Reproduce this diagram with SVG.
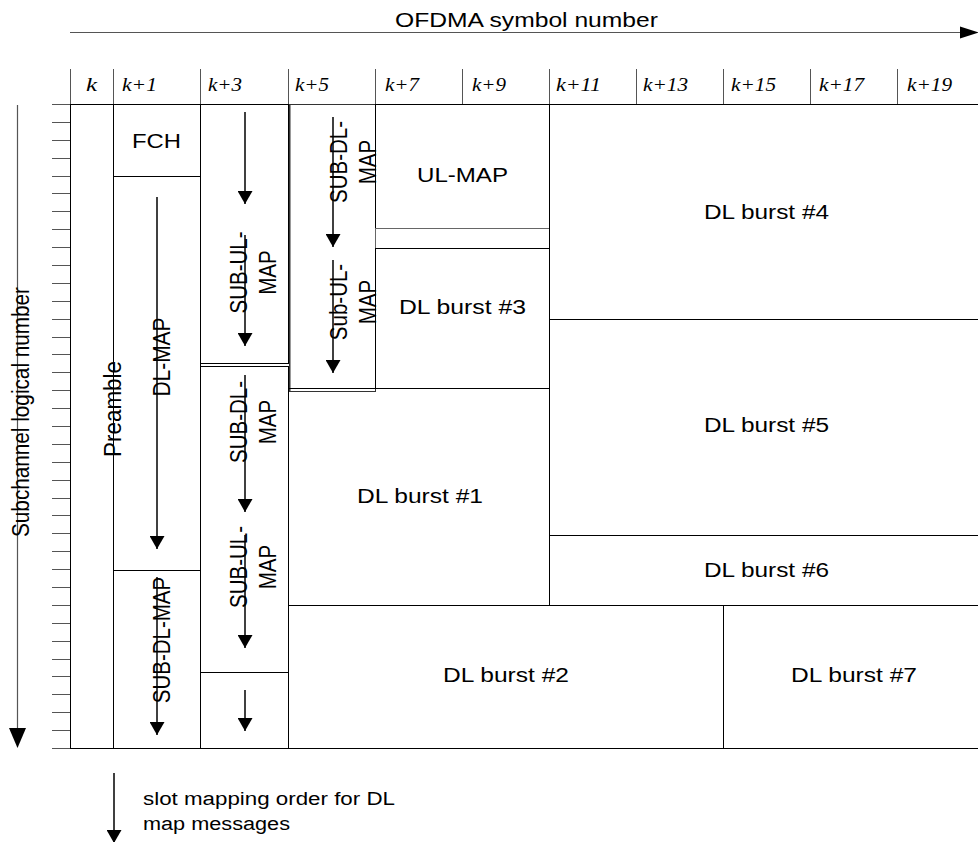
<svg xmlns="http://www.w3.org/2000/svg" width="978" height="842" viewBox="0 0 978 842">
<style>
.cell{fill:none;stroke:#000;stroke-width:1}
.thin{fill:none;stroke:#555;stroke-width:1}
.ax{fill:none;stroke:#555;stroke-width:1.2}
.t{font-family:"Liberation Sans",Arial,sans-serif;font-size:20.5px;fill:#000}
.lg{font-family:"Liberation Sans",Arial,sans-serif;font-size:18px;fill:#000}
.h{font-family:"Liberation Serif","Times New Roman",serif;font-style:italic;font-size:18px;fill:#000}
.arr{fill:none;stroke:#000;stroke-width:1.5;marker-end:url(#ah)}
</style>
<defs>
<marker id="ah" viewBox="0 0 13 15" refX="13" refY="7.5" markerWidth="13" markerHeight="15" markerUnits="userSpaceOnUse" orient="auto">
<path d="M0,0 L13,7.5 L0,15 z" fill="#000"/>
</marker>
</defs>
<rect width="978" height="842" fill="#fff"/>

<g id="axes">
<line class="ax" x1="70" y1="32.5" x2="962" y2="32.5"/>
<polygon points="960,26.5 979,32.5 960,38.5" fill="#000"/>
<text class="t" x="395" y="27" textLength="263" lengthAdjust="spacingAndGlyphs">OFDMA symbol number</text>
<line class="ax" x1="17.5" y1="105" x2="17.5" y2="730"/>
<polygon points="9,728 26,728 17.5,748" fill="#000"/>
<text class="t" transform="translate(29,412) scale(1.2,1) rotate(-90)" text-anchor="middle" textLength="250" lengthAdjust="spacingAndGlyphs">Subchannel logical number</text>
<path class="thin" d="M52 104.5H978 M52 748.5H978 M52 122.5H70 M52 140.5H70 M52 158.5H70 M52 176.5H70 M52 193.5H70 M52 211.5H70 M52 229.5H70 M52 247.5H70 M52 265.5H70 M52 283.5H70 M52 301.5H70 M52 319.5H70 M52 337.5H70 M52 354.5H70 M52 372.5H70 M52 390.5H70 M52 408.5H70 M52 426.5H70 M52 444.5H70 M52 462.5H70 M52 480.5H70 M52 498.5H70 M52 515.5H70 M52 533.5H70 M52 551.5H70 M52 569.5H70 M52 587.5H70 M52 605.5H70 M52 623.5H70 M52 641.5H70 M52 659.5H70 M52 676.5H70 M52 694.5H70 M52 712.5H70 M52 730.5H70"/>
</g>

<g id="header">
<path class="thin" d="M70.5 69V104 M113.5 69V104 M200.5 69V104 M288.5 69V104 M375.5 69V104 M462.5 69V104 M549.5 69V104 M636.5 69V104 M723.5 69V104 M810.5 69V104 M897.5 69V104"/>
<text class="h" x="86" y="91" textLength="11" lengthAdjust="spacingAndGlyphs">k</text>
<text class="h" x="122" y="91" textLength="35" lengthAdjust="spacingAndGlyphs">k+1</text>
<text class="h" x="208" y="91" textLength="34" lengthAdjust="spacingAndGlyphs">k+3</text>
<text class="h" x="295" y="91" textLength="34" lengthAdjust="spacingAndGlyphs">k+5</text>
<text class="h" x="385" y="91" textLength="34" lengthAdjust="spacingAndGlyphs">k+7</text>
<text class="h" x="472" y="91" textLength="34" lengthAdjust="spacingAndGlyphs">k+9</text>
<text class="h" x="556" y="91" textLength="45" lengthAdjust="spacingAndGlyphs">k+11</text>
<text class="h" x="643" y="91" textLength="45" lengthAdjust="spacingAndGlyphs">k+13</text>
<text class="h" x="731" y="91" textLength="45" lengthAdjust="spacingAndGlyphs">k+15</text>
<text class="h" x="819" y="91" textLength="45" lengthAdjust="spacingAndGlyphs">k+17</text>
<text class="h" x="907" y="91" textLength="45" lengthAdjust="spacingAndGlyphs">k+19</text>
</g>

<g id="preamble">
<rect class="cell" x="70.5" y="104.5" width="43" height="644"/>
<text class="t" transform="translate(121,409) scale(1.2,1) rotate(-90)" text-anchor="middle" textLength="96" lengthAdjust="spacingAndGlyphs">Preamble</text>
</g>
<g id="fch">
<rect class="cell" x="113.5" y="104.5" width="87" height="72"/>
<text class="t" x="132" y="147.5" textLength="49" lengthAdjust="spacingAndGlyphs">FCH</text>
</g>
<g id="dl-map">
<rect class="cell" x="113.5" y="176.5" width="87" height="394"/>
<text class="t" transform="translate(170,357) scale(1.2,1) rotate(-90)" text-anchor="middle" textLength="79" lengthAdjust="spacingAndGlyphs">DL-MAP</text>
</g>
<g id="sub-dl-map-a">
<rect class="cell" x="113.5" y="570.5" width="87" height="178"/>
<text class="t" transform="translate(170,640) scale(1.2,1) rotate(-90)" text-anchor="middle">SUB-DL-MAP</text>
</g>
<g id="sub-ul-map-a">
<rect class="cell" x="200.5" y="104.5" width="88" height="259"/>
<line x1="290.5" y1="104" x2="290.5" y2="391" stroke="#999" stroke-width="1"/>
<text class="t" transform="translate(247,272.5) scale(1.2,1) rotate(-90)" text-anchor="middle"><tspan x="0" y="0">SUB-UL-</tspan><tspan x="0" y="24">MAP</tspan></text>
</g>
<g id="sub-dl-map-b">
<rect class="cell" x="200.5" y="366.5" width="88" height="306"/>
<text class="t" transform="translate(247,422) scale(1.2,1) rotate(-90)" text-anchor="middle"><tspan x="0" y="0">SUB-DL-</tspan><tspan x="0" y="24">MAP</tspan></text>
</g>
<g id="sub-ul-map-b">
<text class="t" transform="translate(247,567) scale(1.2,1) rotate(-90)" text-anchor="middle"><tspan x="0" y="0">SUB-UL-</tspan><tspan x="0" y="24">MAP</tspan></text>
</g>
<g id="slot-last">
<rect class="cell" x="200.5" y="672.5" width="88" height="76"/>
</g>
<g id="k5-box">
<rect x="289.5" y="104.5" width="86" height="287" fill="none" stroke="#333" stroke-width="1"/>
<text class="t" transform="translate(347,162) scale(1.2,1) rotate(-90)" text-anchor="middle"><tspan x="0" y="0">SUB-DL-</tspan><tspan x="0" y="24">MAP</tspan></text>
<text class="t" transform="translate(347,302) scale(1.2,1) rotate(-90)" text-anchor="middle"><tspan x="0" y="0">Sub-UL-</tspan><tspan x="0" y="24">MAP</tspan></text>
</g>
<g id="ul-map">
<rect class="cell" x="375.5" y="104.5" width="174" height="124"/>
<rect x="375.5" y="228.5" width="174" height="20" fill="none" stroke="#666" stroke-width="1"/>
<text class="t" x="417" y="181.5" textLength="91" lengthAdjust="spacingAndGlyphs">UL-MAP</text>
</g>
<g id="dl-burst-3">
<rect class="cell" x="375.5" y="248.5" width="174" height="140"/>
<text class="t" x="399" y="314" textLength="127" lengthAdjust="spacingAndGlyphs">DL burst #3</text>
</g>
<g id="dl-burst-4">
<rect class="cell" x="549.5" y="104.5" width="440" height="215"/>
<text class="t" x="704" y="219" textLength="125" lengthAdjust="spacingAndGlyphs">DL burst #4</text>
</g>
<g id="dl-burst-5">
<rect class="cell" x="549.5" y="319.5" width="440" height="216"/>
<text class="t" x="704" y="432" textLength="125" lengthAdjust="spacingAndGlyphs">DL burst #5</text>
</g>
<g id="dl-burst-6">
<rect class="cell" x="549.5" y="535.5" width="440" height="70"/>
<text class="t" x="704" y="577" textLength="125" lengthAdjust="spacingAndGlyphs">DL burst #6</text>
</g>
<g id="dl-burst-1">
<rect class="cell" x="288.5" y="388.5" width="261" height="217"/>
<text class="t" x="357" y="503" textLength="126" lengthAdjust="spacingAndGlyphs">DL burst #1</text>
</g>
<g id="dl-burst-2">
<rect class="cell" x="288.5" y="605.5" width="435" height="143"/>
<text class="t" x="443" y="682" textLength="126" lengthAdjust="spacingAndGlyphs">DL burst #2</text>
</g>
<g id="dl-burst-7">
<rect class="cell" x="723.5" y="605.5" width="266" height="143"/>
<text class="t" x="791" y="682" textLength="126" lengthAdjust="spacingAndGlyphs">DL burst #7</text>
</g>

<g id="connectors">
<line class="arr" x1="157" y1="197" x2="157" y2="549"/>
<line class="arr" x1="157" y1="577" x2="157" y2="735"/>
<line class="arr" x1="245" y1="112" x2="245" y2="204"/>
<line class="arr" x1="245" y1="235" x2="245" y2="346"/>
<line class="arr" x1="245" y1="375" x2="245" y2="512"/>
<line class="arr" x1="245" y1="535" x2="245" y2="648"/>
<line class="arr" x1="245" y1="690" x2="245" y2="731"/>
<line class="arr" x1="333" y1="117" x2="333" y2="247"/>
<line class="arr" x1="333" y1="260" x2="333" y2="373"/>
</g>

<g id="legend">
<line class="arr" x1="114" y1="773" x2="114" y2="843"/>
<text class="lg" x="143" y="805" textLength="252" lengthAdjust="spacingAndGlyphs">slot mapping order for DL</text>
<text class="lg" x="143" y="830" textLength="147" lengthAdjust="spacingAndGlyphs">map messages</text>
</g>
</svg>
